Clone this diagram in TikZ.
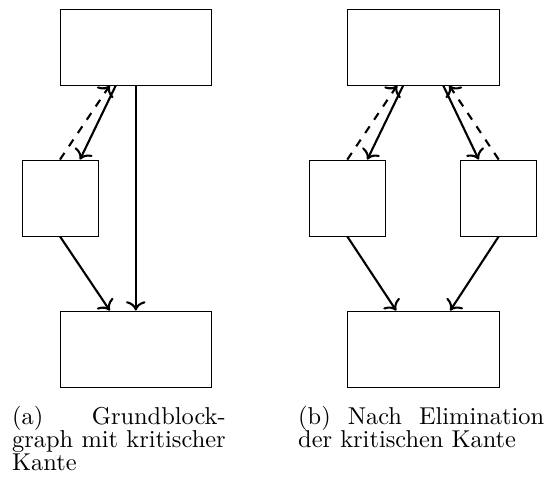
\documentclass[tikz,border=0pt]{standalone}
\usepackage{graphicx}
\usetikzlibrary{calc,arrows.meta}
\newcommand{\captline}[1]{\scalebox{2.44}{\fontsize{10}{12}\selectfont #1}}
\begin{document}
\begin{tikzpicture}[x=1pt,y=-1pt,
  blk/.style={draw, line width=0.9pt, inner sep=0pt, minimum width=151.7pt, minimum height=76pt},
  sq/.style={draw, line width=0.9pt, inner sep=0pt, minimum width=76pt, minimum height=76pt},
  conn/.style={line width=2.1pt, -{To[scale=1.5]}},
  crit/.style={conn, dash pattern=on 8pt off 8pt},
  captxt/.style={inner sep=0pt, anchor=base west}]
\useasboundingbox (0,0) rectangle (549,487);
% (a)
\node[blk] (ta) at (135.8,47) {};
\node[sq]  (la) at (60,198) {};
\node[blk] (ba) at (135.8,349) {};
\draw[crit] (la.north) -- ($(ta.south)+(-26,0)$);
\draw[conn] ($(ta.south)+(-20,0)$) -- ($(la.north)+(20,0)$);
\draw[conn] (ta.south) -- (ba.north);
\draw[conn] (la.south) -- ($(ba.north)+(-26,0)$);
% (b)
\node[blk] (tb) at (423.2,47) {};
\node[sq]  (lb) at (347.3,198) {};
\node[sq]  (rb) at (498.7,198) {};
\node[blk] (bb) at (423.2,349) {};
\draw[crit] (lb.north) -- ($(tb.south)+(-26,0)$);
\draw[conn] ($(tb.south)+(-20,0)$) -- ($(lb.north)+(20,0)$);
\draw[conn] ($(tb.south)+(20,0)$) -- ($(rb.north)+(-20,0)$);
\draw[crit] (rb.north) -- ($(tb.south)+(26,0)$);
\draw[conn] (lb.south) -- ($(bb.north)+(-27,0)$);
\draw[conn] (rb.south) -- ($(bb.north)+(27,0)$);
% captions
\node[captxt] (ca1) at (12,424) {\captline{\hbox to 87.5pt{(a) Grundblock-}}};
\node[captxt] (ca2) at (12,447) {\captline{\hbox to 87.5pt{graph mit kritischer}}};
\node[captxt] (ca3) at (12,470) {\captline{Kante}};
\node[captxt] (cb1) at (298,424) {\captline{\hbox to 100.8pt{(b) Nach Elimination}}};
\node[captxt] (cb2) at (298,447) {\captline{der kritischen Kante}};
\end{tikzpicture}
\end{document}
